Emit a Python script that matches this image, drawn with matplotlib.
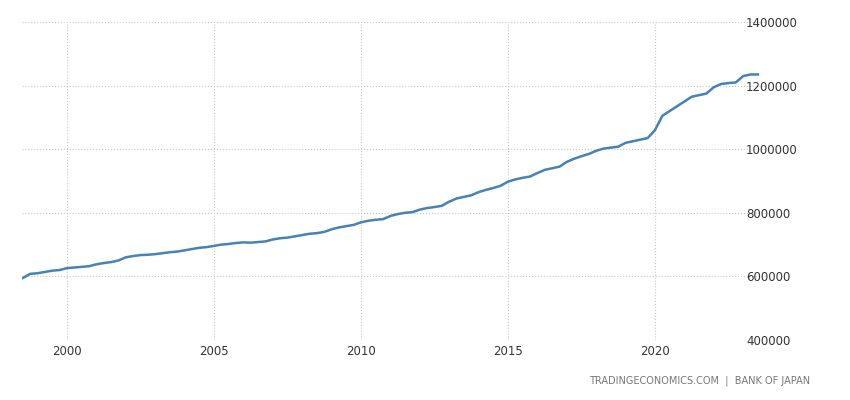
import matplotlib
matplotlib.use("Agg")
import matplotlib.pyplot as plt
import numpy as np

start_year = 1998.5
values_k = [595,
 608,610,614,618, 620,626,628,630, 632,638,642,645, 650,660,664,667,
 668,670,673,676, 678,682,686,690, 692,696,700,702, 705,707,706,708,
 710,716,720,722, 726,730,734,736, 740,748,754,758, 762,770,775,778,
 780,790,796,800, 802,810,815,818, 822,835,845,850, 855,865,872,878,
 885,898,905,910, 914,925,935,940, 945,960,970,978, 985,995,1002,1005,
 1008,1020,1025,1030, 1035,1060,1105,1120, 1135,1150,1165,1170,
 1175,1195,1205,1208, 1210,1230,1235,1235]
values = np.array(values_k) * 1000
x = start_year + 0.25 * np.arange(len(values))
xticks = [2000, 2005, 2010, 2015, 2020]
yticks = [400000, 600000, 800000, 1000000, 1200000, 1400000]

fig = plt.figure(figsize=(8.5, 4), dpi=100)
ax = fig.add_axes([22/850, 0.15, 745/850, 0.795])
ax.plot(x, values, color="#4682b4", lw=1.8)
ax.set_xlim(1998.47, 1998.47 + 745/29.4)
ax.set_ylim(400000, 1400000)
ax.set_xticks(xticks)
ax.set_yticks(yticks)
ax.set_yticklabels([str(v) for v in yticks])
ax.yaxis.tick_right()
for s in ax.spines.values():
    s.set_visible(False)
ax.grid(True, linestyle=":", color="#c8c8c8", lw=0.8)
ax.tick_params(length=0, labelsize=8.5, colors="#333333")
ax.tick_params(axis="y", pad=-15)
fig.text(0.953, 0.04, "TRADINGECONOMICS.COM  |  BANK OF JAPAN", ha="right",
         fontsize=7, color="#777777")
fig.savefig("out.png", dpi=100)
